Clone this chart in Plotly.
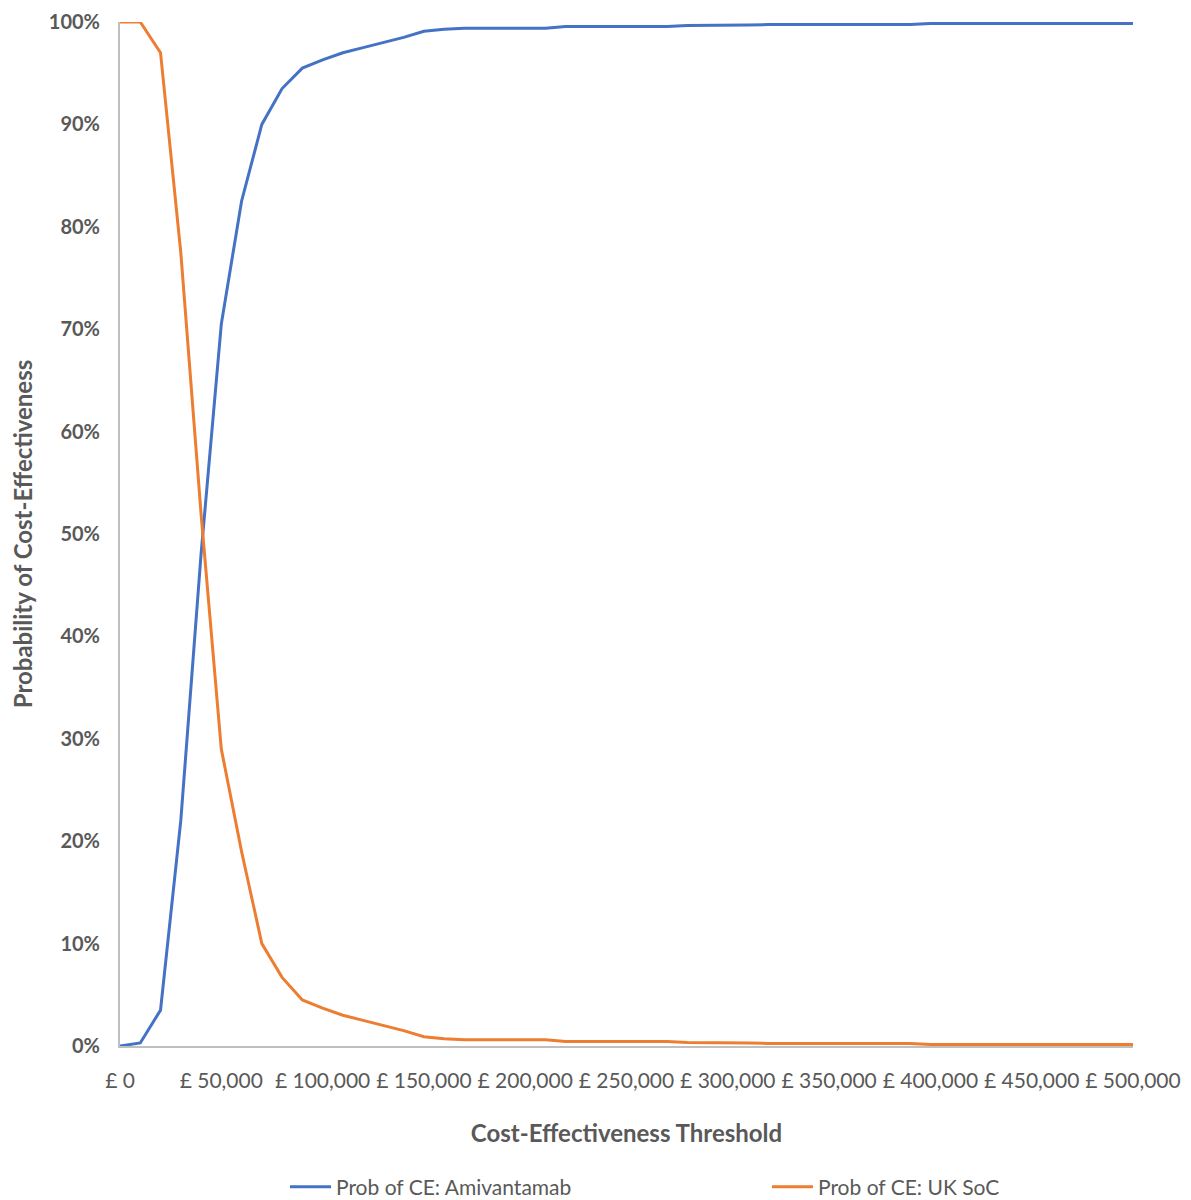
import plotly.graph_objects as go

thresholds = [0, 10000, 20000, 30000, 40000, 50000, 60000, 70000, 80000, 90000,
              100000, 110000, 120000, 130000, 140000, 150000, 160000, 170000, 180000, 190000,
              200000, 210000, 220000, 230000, 240000, 250000, 260000, 270000, 280000, 290000,
              300000, 310000, 320000, 330000, 340000, 350000, 360000, 370000, 380000, 390000,
              400000, 410000, 420000, 430000, 440000, 450000, 460000, 470000, 480000, 490000,
              500000]

prob_amivantamab = [0.0, 0.3, 3.5, 22.0, 48.0, 70.5, 82.5, 90.0, 93.5, 95.5,
                    96.3, 97.0, 97.5, 98.0, 98.5, 99.1, 99.3, 99.4, 99.4, 99.4,
                    99.4, 99.4, 99.55, 99.55, 99.55, 99.55, 99.55, 99.55, 99.65, 99.65,
                    99.65, 99.7, 99.75, 99.75, 99.75, 99.75, 99.75, 99.75, 99.75, 99.75,
                    99.85, 99.85, 99.85, 99.85, 99.85, 99.85, 99.85, 99.85, 99.85, 99.85,
                    99.85]

prob_uk_soc = [100.0, 100.0, 97.0, 77.5, 52.0, 29.0, 19.0, 10.0, 6.7, 4.5,
               3.7, 3.0, 2.5, 2.0, 1.5, 0.9, 0.7, 0.6, 0.6, 0.6,
               0.6, 0.6, 0.45, 0.45, 0.45, 0.45, 0.45, 0.45, 0.35, 0.35,
               0.35, 0.3, 0.25, 0.25, 0.25, 0.25, 0.25, 0.25, 0.25, 0.25,
               0.15, 0.15, 0.15, 0.15, 0.15, 0.15, 0.15, 0.15, 0.15, 0.15,
               0.15]

x_tick_vals = [0, 50000, 100000, 150000, 200000, 250000, 300000, 350000, 400000, 450000, 500000]
x_tick_text = ["£ 0", "£ 50,000", "£ 100,000", "£ 150,000", "£ 200,000", "£ 250,000",
               "£ 300,000", "£ 350,000", "£ 400,000", "£ 450,000", "£ 500,000"]
y_tick_vals = [0, 10, 20, 30, 40, 50, 60, 70, 80, 90, 100]
y_tick_text = [f"{v}%" for v in y_tick_vals]

FONT = "Lato, Open Sans, sans-serif"
GREY = "#595959"
W, H = 1191, 1200

fig = go.Figure()
fig.add_trace(go.Scatter(x=thresholds, y=prob_amivantamab, mode="lines",
                         name="Prob of CE: Amivantamab",
                         line=dict(color="#4472C4", width=3), legend="legend"))
fig.add_trace(go.Scatter(x=thresholds, y=prob_uk_soc, mode="lines",
                         name="Prob of CE: UK SoC",
                         line=dict(color="#ED7D31", width=3), legend="legend2"))

legend_common = dict(orientation="h", xref="container", yref="container",
                     yanchor="middle", xanchor="left", itemwidth=41,
                     font=dict(size=21, color=GREY), bgcolor="rgba(0,0,0,0)")

fig.update_layout(
    width=W, height=H,
    margin=dict(l=112, r=66, t=14, b=162, autoexpand=False),
    paper_bgcolor="white", plot_bgcolor="white",
    font=dict(family=FONT, color=GREY),
    showlegend=True,
    legend=dict(x=277 / W, y=1 - 1179 / H, **legend_common),
    legend2=dict(x=759 / W, y=1 - 1179 / H, **legend_common),
    xaxis=dict(range=[0, 500000], tickvals=x_tick_vals, ticktext=x_tick_text,
               showgrid=False, zeroline=False, showline=True, linecolor="#BFBFBF", linewidth=2,
               ticks="", tickfont=dict(size=21, color=GREY), ticklabelstandoff=15,
               automargin=False,
               title=dict(text="<b>Cost-Effectiveness Threshold</b>", standoff=34,
                          font=dict(size=24, color=GREY))),
    yaxis=dict(range=[0, 100], tickvals=y_tick_vals, ticktext=[f"<b>{t}</b>" for t in y_tick_text],
               showgrid=False, zeroline=False, showline=True, linecolor="#BFBFBF", linewidth=2,
               ticks="", tickfont=dict(size=20, color=GREY), ticklabelstandoff=14,
               automargin=False,
               title=dict(text="<b>Probability of Cost-Effectiveness</b>", standoff=11,
                          font=dict(size=24, color=GREY))),
)

fig.write_html("out.html")
